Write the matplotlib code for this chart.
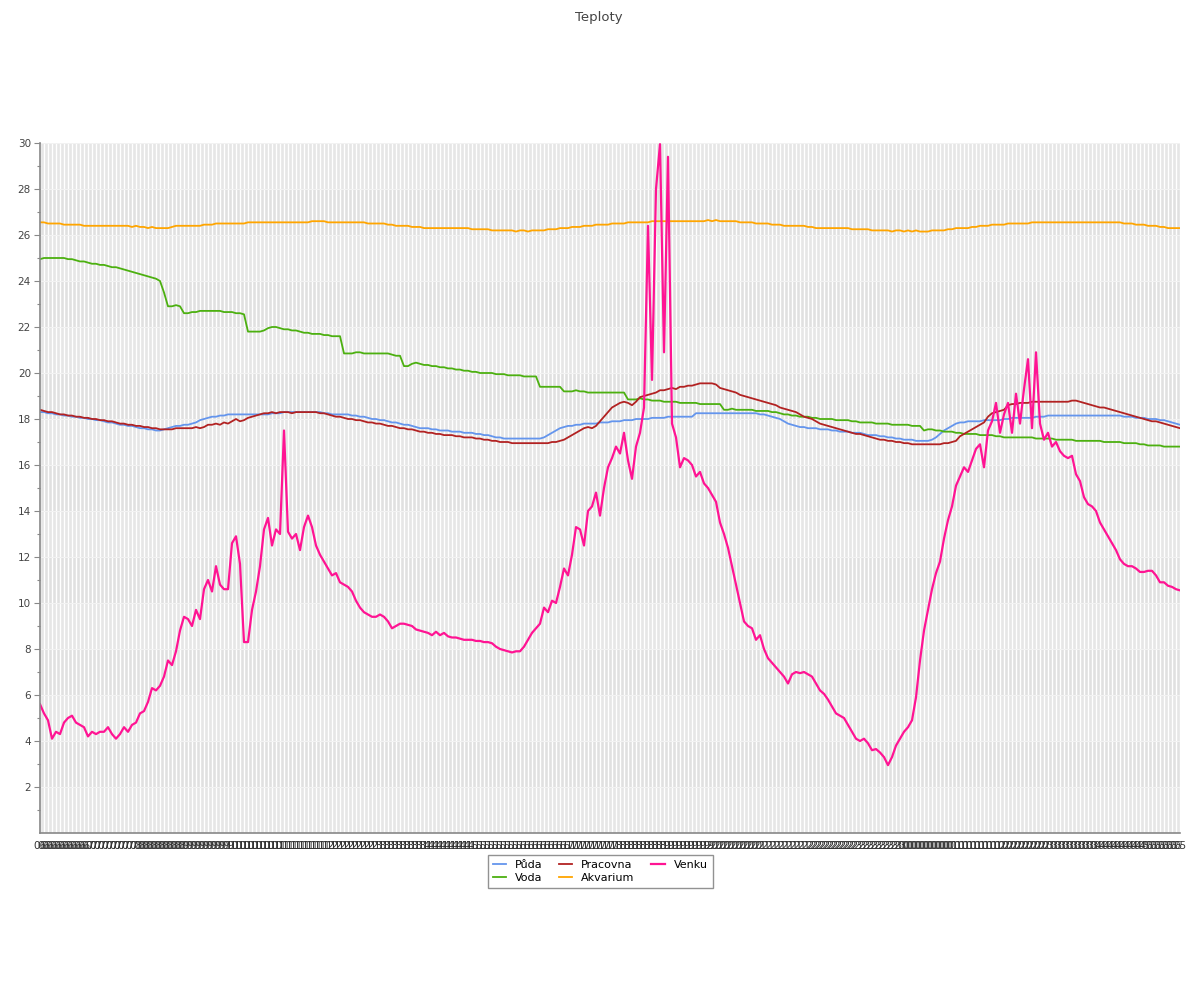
import matplotlib.pyplot as plt
import numpy as np
import pandas as pd

# temperatures, one value per time step
puda = [
    18.3, 18.3, 18.25, 18.25, 18.2, 18.2, 18.15, 18.15, 18.1, 18.1,
    18.05, 18.05, 18.0, 18.0, 17.95, 17.95, 17.9, 17.85, 17.85, 17.8,
    17.75, 17.75, 17.7, 17.7, 17.65, 17.6, 17.6, 17.55, 17.55, 17.5,
    17.5, 17.55, 17.6, 17.65, 17.7, 17.7, 17.75, 17.75, 17.8, 17.85,
    17.95, 18.0, 18.05, 18.1, 18.1, 18.15, 18.15, 18.2, 18.2, 18.2,
    18.2, 18.2, 18.2, 18.2, 18.2, 18.2, 18.2, 18.2, 18.25, 18.25,
    18.25, 18.3, 18.3, 18.3, 18.3, 18.3, 18.3, 18.3, 18.3, 18.3,
    18.3, 18.25, 18.25, 18.2, 18.2, 18.2, 18.2, 18.2, 18.15, 18.15,
    18.1, 18.1, 18.05, 18.0, 18.0, 17.95, 17.95, 17.9, 17.85, 17.85,
    17.8, 17.75, 17.75, 17.7, 17.65, 17.6, 17.6, 17.6, 17.55, 17.55,
    17.5, 17.5, 17.5, 17.45, 17.45, 17.45, 17.4, 17.4, 17.4, 17.35,
    17.35, 17.3, 17.3, 17.25, 17.2, 17.2, 17.15, 17.15, 17.15, 17.15,
    17.15, 17.15, 17.15, 17.15, 17.15, 17.15, 17.2, 17.3, 17.4, 17.5,
    17.6, 17.65, 17.7, 17.7, 17.75, 17.75, 17.8, 17.8, 17.8, 17.8,
    17.85, 17.85, 17.85, 17.9, 17.9, 17.9, 17.95, 17.95, 17.95, 18.0,
    18.0, 18.0, 18.0, 18.05, 18.05, 18.05, 18.05, 18.1, 18.1, 18.1,
    18.1, 18.1, 18.1, 18.1, 18.25, 18.25, 18.25, 18.25, 18.25, 18.25,
    18.25, 18.25, 18.25, 18.25, 18.25, 18.25, 18.25, 18.25, 18.25, 18.25,
    18.2, 18.2, 18.15, 18.1, 18.05, 18.0, 17.9, 17.8, 17.75, 17.7,
    17.65, 17.65, 17.6, 17.6, 17.6, 17.55, 17.55, 17.55, 17.5, 17.5,
    17.45, 17.45, 17.45, 17.4, 17.4, 17.4, 17.35, 17.3, 17.3, 17.3,
    17.25, 17.25, 17.2, 17.2, 17.15, 17.15, 17.1, 17.1, 17.1, 17.05,
    17.05, 17.05, 17.05, 17.1, 17.2, 17.35, 17.5, 17.6, 17.7, 17.8,
    17.85, 17.85, 17.9, 17.9, 17.9, 17.9, 17.95, 17.95, 17.95, 17.95,
    17.95, 18.0, 18.0, 18.05, 18.05, 18.05, 18.05, 18.05, 18.05, 18.1,
    18.1, 18.1, 18.15, 18.15, 18.15, 18.15, 18.15, 18.15, 18.15, 18.15,
    18.15, 18.15, 18.15, 18.15, 18.15, 18.15, 18.15, 18.15, 18.15, 18.15,
    18.15, 18.1, 18.1, 18.1, 18.05, 18.05, 18.05, 18.0, 18.0, 18.0,
    17.95, 17.95, 17.9, 17.85, 17.8, 17.75,
]

voda = [
    24.95, 25.0, 25.0, 25.0, 25.0, 25.0, 25.0, 24.95, 24.95, 24.9,
    24.85, 24.85, 24.8, 24.75, 24.75, 24.7, 24.7, 24.65, 24.6, 24.6,
    24.55, 24.5, 24.45, 24.4, 24.35, 24.3, 24.25, 24.2, 24.15, 24.1,
    24.0, 23.5, 22.9, 22.9, 22.95, 22.9, 22.6, 22.6, 22.65, 22.65,
    22.7, 22.7, 22.7, 22.7, 22.7, 22.7, 22.65, 22.65, 22.65, 22.6,
    22.6, 22.55, 21.8, 21.8, 21.8, 21.8, 21.85, 21.95, 22.0, 22.0,
    21.95, 21.9, 21.9, 21.85, 21.85, 21.8, 21.75, 21.75, 21.7, 21.7,
    21.7, 21.65, 21.65, 21.6, 21.6, 21.6, 20.85, 20.85, 20.85, 20.9,
    20.9, 20.85, 20.85, 20.85, 20.85, 20.85, 20.85, 20.85, 20.8, 20.75,
    20.75, 20.3, 20.3, 20.4, 20.45, 20.4, 20.35, 20.35, 20.3, 20.3,
    20.25, 20.25, 20.2, 20.2, 20.15, 20.15, 20.1, 20.1, 20.05, 20.05,
    20.0, 20.0, 20.0, 20.0, 19.95, 19.95, 19.95, 19.9, 19.9, 19.9,
    19.9, 19.85, 19.85, 19.85, 19.85, 19.4, 19.4, 19.4, 19.4, 19.4,
    19.4, 19.2, 19.2, 19.2, 19.25, 19.2, 19.2, 19.15, 19.15, 19.15,
    19.15, 19.15, 19.15, 19.15, 19.15, 19.15, 19.15, 18.85, 18.85, 18.85,
    18.9, 18.85, 18.85, 18.8, 18.8, 18.8, 18.75, 18.75, 18.75, 18.75,
    18.7, 18.7, 18.7, 18.7, 18.7, 18.65, 18.65, 18.65, 18.65, 18.65,
    18.65, 18.4, 18.4, 18.45, 18.4, 18.4, 18.4, 18.4, 18.4, 18.35,
    18.35, 18.35, 18.35, 18.3, 18.3, 18.25, 18.2, 18.2, 18.15, 18.15,
    18.1, 18.1, 18.1, 18.05, 18.05, 18.0, 18.0, 18.0, 18.0, 17.95,
    17.95, 17.95, 17.95, 17.9, 17.9, 17.85, 17.85, 17.85, 17.85, 17.8,
    17.8, 17.8, 17.8, 17.75, 17.75, 17.75, 17.75, 17.75, 17.7, 17.7,
    17.7, 17.5, 17.55, 17.55, 17.5, 17.5, 17.45, 17.45, 17.45, 17.4,
    17.4, 17.35, 17.35, 17.35, 17.35, 17.3, 17.3, 17.3, 17.3, 17.25,
    17.25, 17.2, 17.2, 17.2, 17.2, 17.2, 17.2, 17.2, 17.2, 17.15,
    17.15, 17.15, 17.15, 17.15, 17.1, 17.1, 17.1, 17.1, 17.1, 17.05,
    17.05, 17.05, 17.05, 17.05, 17.05, 17.05, 17.0, 17.0, 17.0, 17.0,
    17.0, 16.95, 16.95, 16.95, 16.95, 16.9, 16.9, 16.85, 16.85, 16.85,
    16.85, 16.8, 16.8, 16.8, 16.8, 16.8,
]

pracovna = [
    18.4, 18.35, 18.3, 18.3, 18.25, 18.2, 18.2, 18.15, 18.15, 18.1,
    18.1, 18.05, 18.05, 18.0, 18.0, 17.95, 17.95, 17.9, 17.9, 17.85,
    17.8, 17.8, 17.75, 17.75, 17.7, 17.7, 17.65, 17.65, 17.6, 17.6,
    17.55, 17.55, 17.55, 17.55, 17.6, 17.6, 17.6, 17.6, 17.6, 17.65,
    17.6, 17.65, 17.75, 17.75, 17.8, 17.75, 17.85, 17.8, 17.9, 18.0,
    17.9, 17.95, 18.05, 18.1, 18.15, 18.2, 18.25, 18.25, 18.3, 18.25,
    18.3, 18.3, 18.3, 18.25, 18.3, 18.3, 18.3, 18.3, 18.3, 18.3,
    18.25, 18.25, 18.2, 18.15, 18.1, 18.1, 18.05, 18.0, 18.0, 17.95,
    17.95, 17.9, 17.85, 17.85, 17.8, 17.8, 17.75, 17.7, 17.7, 17.65,
    17.6, 17.6, 17.55, 17.55, 17.5, 17.45, 17.45, 17.4, 17.4, 17.35,
    17.35, 17.3, 17.3, 17.3, 17.25, 17.25, 17.2, 17.2, 17.2, 17.15,
    17.15, 17.1, 17.1, 17.05, 17.05, 17.0, 17.0, 17.0, 16.95, 16.95,
    16.95, 16.95, 16.95, 16.95, 16.95, 16.95, 16.95, 16.95, 17.0, 17.0,
    17.05, 17.1, 17.2, 17.3, 17.4, 17.5, 17.6, 17.65, 17.6, 17.7,
    17.9, 18.1, 18.3, 18.5, 18.6, 18.7, 18.75, 18.7, 18.6, 18.75,
    18.95, 19.0, 19.05, 19.1, 19.15, 19.25, 19.25, 19.3, 19.35, 19.3,
    19.4, 19.4, 19.45, 19.45, 19.5, 19.55, 19.55, 19.55, 19.55, 19.5,
    19.35, 19.3, 19.25, 19.2, 19.15, 19.05, 19.0, 18.95, 18.9, 18.85,
    18.8, 18.75, 18.7, 18.65, 18.6, 18.5, 18.45, 18.4, 18.35, 18.3,
    18.2, 18.1, 18.05, 18.0, 17.9, 17.8, 17.75, 17.7, 17.65, 17.6,
    17.55, 17.5, 17.45, 17.4, 17.35, 17.35, 17.3, 17.25, 17.2, 17.15,
    17.1, 17.1, 17.05, 17.05, 17.0, 17.0, 16.95, 16.95, 16.9, 16.9,
    16.9, 16.9, 16.9, 16.9, 16.9, 16.9, 16.95, 16.95, 17.0, 17.05,
    17.25, 17.35, 17.45, 17.55, 17.65, 17.75, 17.85, 18.1, 18.25, 18.3,
    18.35, 18.4, 18.6, 18.65, 18.65, 18.7, 18.7, 18.7, 18.75, 18.75,
    18.75, 18.75, 18.75, 18.75, 18.75, 18.75, 18.75, 18.75, 18.8, 18.8,
    18.75, 18.7, 18.65, 18.6, 18.55, 18.5, 18.5, 18.45, 18.4, 18.35,
    18.3, 18.25, 18.2, 18.15, 18.1, 18.05, 18.0, 17.95, 17.9, 17.9,
    17.85, 17.8, 17.75, 17.7, 17.65, 17.6,
]

akvarium = [
    26.55, 26.55, 26.5, 26.5, 26.5, 26.5, 26.45, 26.45, 26.45, 26.45,
    26.45, 26.4, 26.4, 26.4, 26.4, 26.4, 26.4, 26.4, 26.4, 26.4,
    26.4, 26.4, 26.4, 26.35, 26.4, 26.35, 26.35, 26.3, 26.35, 26.3,
    26.3, 26.3, 26.3, 26.35, 26.4, 26.4, 26.4, 26.4, 26.4, 26.4,
    26.4, 26.45, 26.45, 26.45, 26.5, 26.5, 26.5, 26.5, 26.5, 26.5,
    26.5, 26.5, 26.55, 26.55, 26.55, 26.55, 26.55, 26.55, 26.55, 26.55,
    26.55, 26.55, 26.55, 26.55, 26.55, 26.55, 26.55, 26.55, 26.6, 26.6,
    26.6, 26.6, 26.55, 26.55, 26.55, 26.55, 26.55, 26.55, 26.55, 26.55,
    26.55, 26.55, 26.5, 26.5, 26.5, 26.5, 26.5, 26.45, 26.45, 26.4,
    26.4, 26.4, 26.4, 26.35, 26.35, 26.35, 26.3, 26.3, 26.3, 26.3,
    26.3, 26.3, 26.3, 26.3, 26.3, 26.3, 26.3, 26.3, 26.25, 26.25,
    26.25, 26.25, 26.25, 26.2, 26.2, 26.2, 26.2, 26.2, 26.2, 26.15,
    26.2, 26.2, 26.15, 26.2, 26.2, 26.2, 26.2, 26.25, 26.25, 26.25,
    26.3, 26.3, 26.3, 26.35, 26.35, 26.35, 26.4, 26.4, 26.4, 26.45,
    26.45, 26.45, 26.45, 26.5, 26.5, 26.5, 26.5, 26.55, 26.55, 26.55,
    26.55, 26.55, 26.55, 26.6, 26.6, 26.6, 26.6, 26.6, 26.6, 26.6,
    26.6, 26.6, 26.6, 26.6, 26.6, 26.6, 26.6, 26.65, 26.6, 26.65,
    26.6, 26.6, 26.6, 26.6, 26.6, 26.55, 26.55, 26.55, 26.55, 26.5,
    26.5, 26.5, 26.5, 26.45, 26.45, 26.45, 26.4, 26.4, 26.4, 26.4,
    26.4, 26.4, 26.35, 26.35, 26.3, 26.3, 26.3, 26.3, 26.3, 26.3,
    26.3, 26.3, 26.3, 26.25, 26.25, 26.25, 26.25, 26.25, 26.2, 26.2,
    26.2, 26.2, 26.2, 26.15, 26.2, 26.2, 26.15, 26.2, 26.15, 26.2,
    26.15, 26.15, 26.15, 26.2, 26.2, 26.2, 26.2, 26.25, 26.25, 26.3,
    26.3, 26.3, 26.3, 26.35, 26.35, 26.4, 26.4, 26.4, 26.45, 26.45,
    26.45, 26.45, 26.5, 26.5, 26.5, 26.5, 26.5, 26.5, 26.55, 26.55,
    26.55, 26.55, 26.55, 26.55, 26.55, 26.55, 26.55, 26.55, 26.55, 26.55,
    26.55, 26.55, 26.55, 26.55, 26.55, 26.55, 26.55, 26.55, 26.55, 26.55,
    26.55, 26.5, 26.5, 26.5, 26.45, 26.45, 26.45, 26.4, 26.4, 26.4,
    26.35, 26.35, 26.3, 26.3, 26.3, 26.3,
]

venku = [
    5.6, 5.2, 4.9, 4.1, 4.4, 4.3, 4.8, 5.0, 5.1, 4.8,
    4.7, 4.6, 4.2, 4.4, 4.3, 4.4, 4.4, 4.6, 4.3, 4.1,
    4.3, 4.6, 4.4, 4.7, 4.8, 5.2, 5.3, 5.7, 6.3, 6.2,
    6.4, 6.8, 7.5, 7.3, 7.9, 8.8, 9.4, 9.3, 9.0, 9.7,
    9.3, 10.6, 11.0, 10.5, 11.6, 10.8, 10.6, 10.6, 12.6, 12.9,
    11.7, 8.3, 8.3, 9.7, 10.5, 11.6, 13.2, 13.7, 12.5, 13.2,
    13.0, 17.5, 13.1, 12.8, 13.0, 12.3, 13.3, 13.8, 13.3, 12.5,
    12.1, 11.8, 11.5, 11.2, 11.3, 10.9, 10.8, 10.7, 10.5, 10.1,
    9.8, 9.6, 9.5, 9.4, 9.4, 9.5, 9.4, 9.2, 8.9, 9.0,
    9.1, 9.1, 9.05, 9.0, 8.85, 8.8, 8.75, 8.7, 8.6, 8.75,
    8.6, 8.7, 8.55, 8.5, 8.5, 8.45, 8.4, 8.4, 8.4, 8.35,
    8.35, 8.3, 8.3, 8.25, 8.1, 8.0, 7.95, 7.9, 7.85, 7.9,
    7.9, 8.1, 8.4, 8.7, 8.9, 9.1, 9.8, 9.6, 10.1, 10.0,
    10.7, 11.5, 11.2, 12.1, 13.3, 13.2, 12.5, 14.0, 14.2, 14.8,
    13.8, 15.0, 15.9, 16.3, 16.8, 16.5, 17.4, 16.2, 15.4, 16.8,
    17.4, 18.5, 26.4, 19.7, 28.0, 29.95, 20.9, 29.4, 17.8, 17.2,
    15.9, 16.3, 16.2, 16.0, 15.5, 15.7, 15.2, 15.0, 14.7, 14.4,
    13.5, 13.0, 12.4, 11.6, 10.8, 10.0, 9.2, 9.0, 8.9, 8.4,
    8.6, 8.0, 7.6, 7.4, 7.2, 7.0, 6.8, 6.5, 6.9, 7.0,
    6.95, 7.0, 6.9, 6.8, 6.5, 6.2, 6.05, 5.8, 5.5, 5.2,
    5.1, 5.0, 4.7, 4.4, 4.1, 4.0, 4.1, 3.9, 3.6, 3.65,
    3.5, 3.3, 2.95, 3.3, 3.8, 4.1, 4.4, 4.6, 4.9, 5.9,
    7.5, 8.8, 9.7, 10.6, 11.3, 11.8, 12.8, 13.6, 14.2, 15.1,
    15.5, 15.9, 15.7, 16.2, 16.7, 16.9, 15.9, 17.5, 17.9, 18.7,
    17.4, 18.2, 18.7, 17.4, 19.1, 17.8, 19.3, 20.6, 17.6, 20.9,
    17.8, 17.1, 17.4, 16.8, 17.0, 16.6, 16.4, 16.3, 16.4, 15.6,
    15.3, 14.6, 14.3, 14.2, 14.0, 13.5, 13.2, 12.9, 12.6, 12.3,
    11.9, 11.7, 11.6, 11.6, 11.5, 11.35, 11.35, 11.4, 11.4, 11.2,
    10.9, 10.9, 10.75, 10.7, 10.6, 10.55,
]

series_names = ['Půda', 'Voda', 'Pracovna', 'Akvarium', 'Venku']
series_colors = ['#6495ed', '#4cb010', '#b22222', '#ffa500', '#ff1493']

# x categories are the measurement times (labels unreadable in the original)
times = pd.date_range('2013-10-08 06:00', periods=len(venku), freq='5min')
x_labels = [t.strftime('%H') for t in times]

fig = plt.figure(figsize=(12, 10), dpi=100)
ax = fig.add_axes([40 / 1200, 0.167, 1140 / 1200, 0.69])
x = np.arange(len(venku))

ax.set_facecolor('#e0e0e0')
for lo in range(0, 30, 4):
    ax.axhspan(lo, lo + 2, color='#e6e6e6', lw=0, zorder=0)
ax.set_xticks(x)
ax.set_xticklabels(x_labels, fontsize=7.5, color='#333333')
ax.grid(axis='x', color='white', lw=1, alpha=1)
ax.grid(axis='y', color='#f2f2f2', lw=0.8)
ax.set_axisbelow(True)

for vals, name, col in zip([puda, voda, pracovna, akvarium, venku], series_names, series_colors):
    ax.plot(x, vals, color=col, lw=1.6 if name == 'Venku' else 1.3, label=name)

ax.set_xlim(0, len(venku) - 1)
ax.set_ylim(0, 30)
ax.set_yticks(np.arange(2, 31, 2))
ax.set_yticks(np.arange(1, 30, 2), minor=True)
ax.tick_params(axis='y', which='major', labelsize=7.5, labelcolor='#444444', color='#888888', length=4.5, width=0.8, pad=2)
ax.tick_params(axis='y', which='minor', color='#888888', length=2, width=0.8)
ax.tick_params(axis='x', length=0, pad=6)

for side in ['top', 'right']:
    ax.spines[side].set_visible(False)
for side in ['left', 'bottom']:
    ax.spines[side].set_color('#888888')
    ax.spines[side].set_linewidth(1.2)

fig.text(0.499, 0.989, 'Teploty', ha='center', va='top', fontsize=9.5, color='#444444')

leg = fig.legend(loc='upper center', bbox_to_anchor=(0.5, 0.151), ncol=3, fontsize=8,
                 fancybox=False, edgecolor='#777777', handlelength=1.2, columnspacing=1.5,
                 borderpad=0.45, labelspacing=0.3)
leg.get_frame().set_linewidth(1)

plt.savefig('out.png', dpi=100)
